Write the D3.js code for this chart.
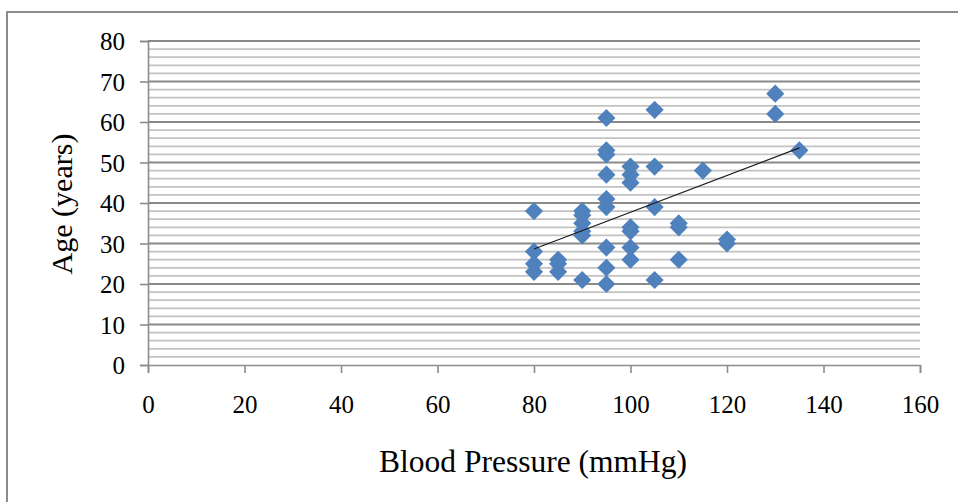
<!DOCTYPE html>
<html><head><meta charset="utf-8">
<script src="https://cdn.jsdelivr.net/npm/d3@7"></script>
<style>body{margin:0;background:#fff}svg{display:block}</style>
</head><body>
<svg id="c" width="958" height="502"></svg>
<script>
const bloodPressure = [80,80,80,80, 85,85,85, 90,90,90,90,90,90, 95,95,95,95,95,95,95,95,95, 100,100,100,100,100,100,100, 105,105,105,105, 110,110,110, 115, 120,120, 130,130, 135];
const age =           [38,28,25,23, 26,25,23, 38,37,35,33,32,21, 61,53,52,47,41,39,29,24,20, 49,47,45,34,33,29,26, 63,49,39,21, 35,34,26, 48, 31,30, 67,62, 53];
const xTicks = [0,20,40,60,80,100,120,140,160];
const yTicks = [0,10,20,30,40,50,60,70,80];
const xTitle = "Blood Pressure (mmHg)";
const yTitle = "Age (years)";

const svg = d3.select("#c");
const font = "'Liberation Serif','Times New Roman',serif";
const L=148, R=920, T=41, B=365;
const x = d3.scaleLinear().domain([0,160]).range([L,R]);
const y = d3.scaleLinear().domain([0,80]).range([B,T]);

// outer border
svg.append("rect").attr("x",7).attr("y",12).attr("width",1000).attr("height",600)
  .attr("fill","none").attr("stroke","#8c8c8c").attr("stroke-width",2);

// minor gridlines
const minor = d3.range(2,81,2).filter(v=>v%10!==0);
svg.append("g").selectAll("line").data(minor).join("line")
  .attr("x1",L).attr("x2",R).attr("y1",d=>y(d)).attr("y2",d=>y(d))
  .attr("stroke","#c2c2c2").attr("stroke-width",1.8);
// major gridlines
svg.append("g").selectAll("line").data(yTicks.filter(v=>v>0)).join("line")
  .attr("x1",L).attr("x2",R).attr("y1",d=>y(d)).attr("y2",d=>y(d))
  .attr("stroke","#8a8a8a").attr("stroke-width",1.8);

// y axis
const ya = svg.append("g").attr("transform",`translate(${L},0)`)
  .call(d3.axisLeft(y).tickValues(yTicks).tickSize(8).tickPadding(15).tickFormat(d3.format("d")));
ya.select(".domain").attr("stroke","#8c8c8c").attr("stroke-width",1.6);
ya.selectAll(".tick line").attr("stroke","#8c8c8c").attr("stroke-width",1.6);
ya.selectAll(".tick text").attr("font-family",font).attr("font-size",25).attr("fill","#000").attr("dy","0.34em");

// x axis
const xa = svg.append("g").attr("transform",`translate(0,${B})`)
  .call(d3.axisBottom(x).tickValues(xTicks).tickSize(8).tickPadding(0).tickFormat(d3.format("d")));
xa.select(".domain").attr("stroke","#8c8c8c").attr("stroke-width",1.6);
xa.selectAll(".tick line").attr("stroke","#8c8c8c").attr("stroke-width",1.6);
xa.selectAll(".tick text").attr("font-family",font).attr("font-size",25).attr("fill","#000")
  .attr("y",48).attr("dy",0);

// trendline (least squares)
const n = age.length;
const mx = d3.mean(bloodPressure), my = d3.mean(age);
let sxy=0,sxx=0;
for(let i=0;i<n;i++){sxy+=(bloodPressure[i]-mx)*(age[i]-my);sxx+=(bloodPressure[i]-mx)**2;}
const slope=sxy/sxx, icpt=my-slope*mx;
const xmin=d3.min(bloodPressure), xmax=d3.max(bloodPressure);

// points
const sym = d3.symbol().type(d3.symbolDiamond2).size(210);
svg.append("g").selectAll("path").data(d3.range(n)).join("path")
  .attr("transform",i=>`translate(${x(bloodPressure[i])},${y(age[i])})`)
  .attr("d",sym).attr("fill","#4f81bd");

svg.append("line").attr("x1",x(xmin)).attr("y1",y(icpt+slope*xmin))
  .attr("x2",x(xmax)).attr("y2",y(icpt+slope*xmax))
  .attr("stroke","#1a1a1a").attr("stroke-width",1.2);

// titles
svg.append("text").attr("x",533).attr("y",472).attr("text-anchor","middle")
  .attr("font-family",font).attr("font-size",31.5).text(xTitle);
svg.append("text").attr("transform","translate(72,204) rotate(-90)").attr("text-anchor","middle")
  .attr("font-family",font).attr("font-size",30).text(yTitle);
</script>
</body></html>
